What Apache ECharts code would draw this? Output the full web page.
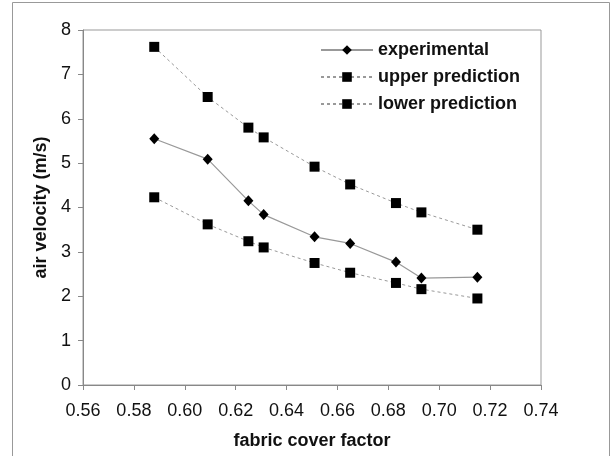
<!DOCTYPE html>
<html>
<head>
<meta charset="utf-8">
<script src="https://cdn.jsdelivr.net/npm/echarts@6/dist/echarts.min.js"></script>
<style>html,body{margin:0;padding:0;background:#fff}#c{width:611px;height:456px}</style>
</head>
<body>
<div id="c"></div>
<script>
var coverFactor = [0.588, 0.609, 0.625, 0.631, 0.651, 0.665, 0.683, 0.693, 0.715];
var experimental = [5.55, 5.09, 4.15, 3.84, 3.34, 3.19, 2.77, 2.41, 2.43];
var upperPrediction = [7.62, 6.49, 5.80, 5.58, 4.92, 4.52, 4.10, 3.89, 3.50];
var lowerPrediction = [4.23, 3.62, 3.24, 3.10, 2.75, 2.53, 2.30, 2.16, 1.95];
var seriesNames = ['experimental', 'upper prediction', 'lower prediction'];
var xTicks = [0.56, 0.58, 0.60, 0.62, 0.64, 0.66, 0.68, 0.70, 0.72, 0.74];
var yTicks = [0, 1, 2, 3, 4, 5, 6, 7, 8];

function pairs(xs, ys) { return xs.map(function (x, i) { return [x, ys[i]]; }); }

var chart = echarts.init(document.getElementById('c'), null, { renderer: 'canvas' });
var font = '"Liberation Sans", Arial, sans-serif';
var legendBase = function (name, top) {
  return {
    data: [name], left: 320, top: top, padding: 0, itemWidth: 52, itemHeight: 12, itemGap: 5,
    textStyle: { fontFamily: font, fontSize: 18, fontWeight: 'bold', color: '#111' },
    selectedMode: false
  };
};
chart.setOption({
  animation: false,
  backgroundColor: '#fff',
  graphic: [{
    type: 'rect', shape: { x: 12.5, y: 2.5, width: 597, height: 470 },
    style: { fill: 'none', stroke: '#999', lineWidth: 1 }, silent: true
  }],
  grid: { left: 83, right: 70, top: 30, bottom: 71, show: true, borderColor: '#999', borderWidth: 1, backgroundColor: 'transparent' },
  legend: [legendBase(seriesNames[0], 41), legendBase(seriesNames[1], 68), legendBase(seriesNames[2], 95)],
  xAxis: {
    type: 'value', min: xTicks[0], max: xTicks[xTicks.length - 1], interval: 0.02,
    name: 'fabric cover factor', nameLocation: 'middle', nameGap: 47,
    nameTextStyle: { fontFamily: font, fontSize: 18, fontWeight: 'bold', color: '#111' },
    axisLine: { lineStyle: { color: '#888', width: 1 } },
    axisTick: { show: true, length: 5, inside: false, lineStyle: { color: '#888' } },
    axisLabel: { fontFamily: font, fontSize: 18, color: '#111', margin: 17, formatter: function (v) { return v.toFixed(2); } },
    splitLine: { show: false }
  },
  yAxis: {
    type: 'value', min: yTicks[0], max: yTicks[yTicks.length - 1], interval: 1,
    name: 'air velocity (m/s)', nameLocation: 'middle', nameGap: 32,
    nameTextStyle: { fontFamily: font, fontSize: 18, fontWeight: 'bold', color: '#111' },
    axisLine: { show: true, lineStyle: { color: '#888', width: 1 } },
    axisTick: { show: true, length: 5, inside: false, lineStyle: { color: '#888' } },
    axisLabel: { fontFamily: font, fontSize: 18, color: '#111', margin: 12 },
    splitLine: { show: false }
  },
  series: [
    {
      name: seriesNames[0], type: 'line', data: pairs(coverFactor, experimental),
      symbol: 'diamond', symbolSize: [10, 11], showAllSymbol: true,
      itemStyle: { color: '#000' }, lineStyle: { color: '#999', width: 1.2, type: 'solid' }, z: 3
    },
    {
      name: seriesNames[1], type: 'line', data: pairs(coverFactor, upperPrediction),
      symbol: 'rect', symbolSize: 10, showAllSymbol: true,
      itemStyle: { color: '#000' }, lineStyle: { color: '#999', width: 1, type: [3, 3] }, z: 2
    },
    {
      name: seriesNames[2], type: 'line', data: pairs(coverFactor, lowerPrediction),
      symbol: 'rect', symbolSize: 10, showAllSymbol: true,
      itemStyle: { color: '#000' }, lineStyle: { color: '#999', width: 1, type: [3, 3] }, z: 2
    }
  ]
});
</script>
</body>
</html>
